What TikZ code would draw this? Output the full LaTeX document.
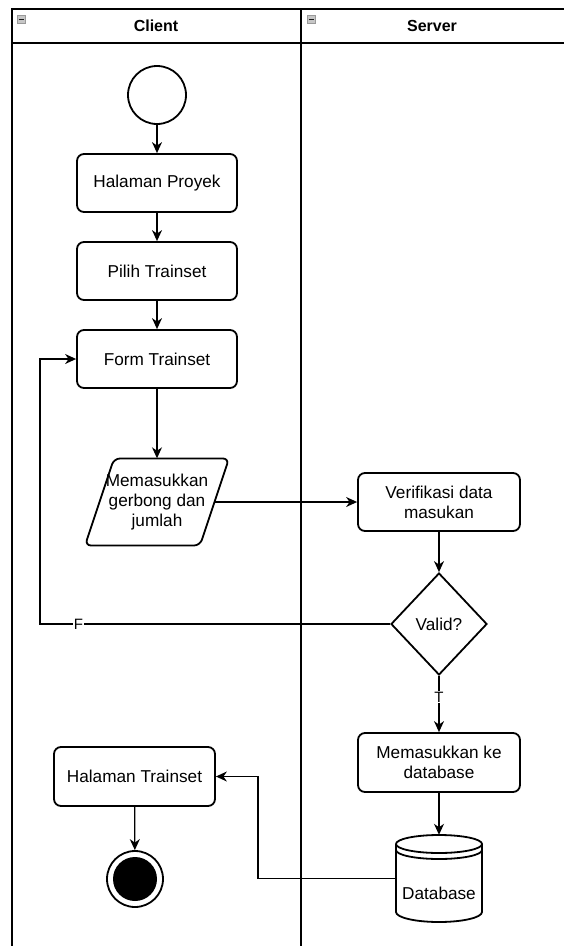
\documentclass[tikz,border=0pt]{standalone}
\usepackage{fontspec}
\setmainfont{Liberation Sans}
\usetikzlibrary{shapes.geometric,arrows.meta,calc}
\begin{document}
\begin{tikzpicture}[x=1pt,y=-1pt,
  txt/.style={font=\fontsize{17.2}{20}\selectfont},
  act/.style={draw, line width=1.8pt, rounded corners=7pt, minimum width=160pt, minimum height=58pt, align=center, txt, inner sep=2pt},
  conn/.style={line width=1.3pt, -{Stealth[length=11pt,width=10pt,inset=3.5pt]}},
  lane/.style={line width=1.5pt},
  hdr/.style={font=\fontsize{16}{19}\selectfont\bfseries},
  icon/.style={fill=gray!45, draw=gray!80, line width=0.6pt},
  lbl/.style={fill=white, font=\fontsize{15}{18}\selectfont, inner sep=1pt}]
\useasboundingbox (0,0) rectangle (564,946);
% swimlanes
\draw[lane] (12,946) -- (12,9) -- (564,9);
\draw[lane] (12,43) -- (564,43);
\draw[lane] (301,9) -- (301,946);
\node[hdr] (hc) at (156,26) {Client};
\node[hdr] (hs) at (432,26) {Server};
\draw[icon] (17,15) rectangle (25,23);
\draw[line width=1pt, gray!20!black] (18.5,19) -- (23.5,19);
\draw[icon] (307,15) rectangle (315,23);
\draw[line width=1pt, gray!20!black] (308.5,19) -- (313.5,19);

% client column
\node[circle, draw, line width=1.8pt, minimum size=58pt, inner sep=0] (start) at (157,95) {};
\node[act] (hp) at (157,183) {Halaman Proyek};
\node[act] (pt) at (157,271) {Pilih Trainset};
\node[act] (ft) at (157,359) {Form Trainset};
\node[minimum width=114pt, minimum height=87pt, inner sep=0, align=center, txt] (inp) at (157,502) {Memasukkan\\gerbong dan\\jumlah};
\draw[line width=1.8pt, rounded corners=6pt] (170,458.5) -- (229,458.5) -- (200,545.5) -- (85,545.5) -- (114,458.5) -- cycle;
\node[act, minimum width=161pt, minimum height=59pt] (ht) at (134.5,776.5) {Halaman Trainset};
\node[circle, draw, line width=1.8pt, minimum size=56pt, inner sep=0] (end) at (135,879) {};
\fill[black] (end.center) circle[radius=22];

% server column
\node[act, minimum width=162pt] (verif) at (439,502) {Verifikasi data\\masukan};
\node[diamond, draw, line width=1.8pt, minimum width=96pt, minimum height=102pt, inner sep=0, txt] (valid) at (439,624) {Valid?};
\node[act, minimum width=162pt, minimum height=59pt] (mdb) at (439,762.5) {Memasukkan ke\\database};
\node[minimum width=86pt, minimum height=87pt, inner sep=0] (db) at (439,878.5) {};
\draw[line width=1.8pt] (396,844) -- (396,912) arc[start angle=180, end angle=0, x radius=43, y radius=10] -- (482,844);
\draw[line width=1.8pt, fill=white] (439,844) ellipse[x radius=43, y radius=9];
\draw[line width=1.8pt] (396,850) arc[start angle=180, end angle=0, x radius=43, y radius=9];
\node[txt] (dbt) at (439,893) {Database};

% connectors
\coordinate (fl) at (40,624);
\coordinate (bend) at (258,878.5);
\draw[conn] (start) -- (hp);
\draw[conn] (hp) -- (pt);
\draw[conn] (pt) -- (ft);
\draw[conn] (ft) -- (inp.north);
\draw[conn] (inp.east) -- (verif.west);
\draw[conn] (verif) -- (valid);
\draw[conn] (valid.west) -- node[lbl, pos=0.89] {F} (fl) |- (ft.west);
\draw[conn] (valid) -- node[lbl, pos=0.38] {T} (mdb);
\draw[conn] (mdb) -- (db.north);
\draw[conn] (db.west) -- (bend) |- (ht.east);
\draw[conn] (ht) -- (end);
\end{tikzpicture}
\end{document}
